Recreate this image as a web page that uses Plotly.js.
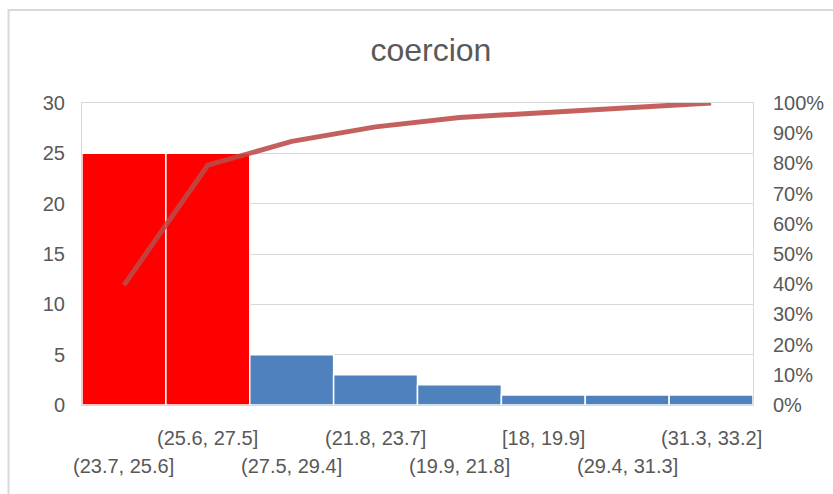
<!DOCTYPE html>
<html>
<head>
<meta charset="utf-8">
<script src="https://cdn.plot.ly/plotly-3.0.1.min.js"></script>
<style>html,body{margin:0;padding:0;background:#fff;}#chart{width:833px;height:494px;}</style>
</head>
<body>
<div id="chart"></div>
<script>
const categories = ["(23.7, 25.6]", "(25.6, 27.5]", "(27.5, 29.4]", "(21.8, 23.7]", "(19.9, 21.8]", "[18, 19.9]", "(29.4, 31.3]", "(31.3, 33.2]"];
const counts = [25, 25, 5, 3, 2, 1, 1, 1];
const cumulativePct = [39.7, 79.4, 87.3, 92.1, 95.2, 96.8, 98.4, 100];
const barColors = ["#FF0000", "#FF0000", "#4F81BD", "#4F81BD", "#4F81BD", "#4F81BD", "#4F81BD", "#4F81BD"];
const leftTicks = [0, 5, 10, 15, 20, 25, 30];
const rightTicks = [0, 10, 20, 30, 40, 50, 60, 70, 80, 90, 100];

const FONT = "Liberation Sans, Arial, sans-serif";
const GREY = "#595959";

const traces = [
  {
    type: "bar", x: categories, y: counts,
    marker: {color: barColors, line: {color: "#ffffff", width: 1.5}},
    hoverinfo: "x+y"
  },
  {
    type: "scatter", mode: "lines", x: categories, y: cumulativePct, yaxis: "y2",
    line: {color: "rgba(188,74,71,0.88)", width: 5}
  }
];

const annotations = categories.map((c, i) => ({
  text: c, x: c, xref: "x", yref: "paper",
  y: i % 2 === 0 ? -0.202 : -0.109, yanchor: "middle", xanchor: "center",
  showarrow: false, font: {family: FONT, size: 20, color: GREY}
}));

const layout = {
  width: 833, height: 494,
  margin: {l: 82, r: 80, t: 103, b: 89},
  paper_bgcolor: "#ffffff", plot_bgcolor: "#ffffff",
  showlegend: false,
  bargap: 0,
  title: {text: "coercion", x: 0.52, xref: "paper", y: 0.9, yanchor: "middle", font: {family: FONT, size: 32, color: GREY}},
  xaxis: {
    type: "category", range: [-0.5, categories.length - 0.5], autorange: false,
    showticklabels: false, ticks: "", showgrid: false,
    showline: true, linecolor: "#d9d9d9", linewidth: 1, mirror: true, zeroline: false
  },
  yaxis: {
    range: [0, 30], tickvals: leftTicks, ticktext: leftTicks.map(String),
    showgrid: true, gridcolor: "#d9d9d9", gridwidth: 1, zeroline: false,
    showline: true, linecolor: "#d9d9d9", linewidth: 1, mirror: true,
    ticks: "", ticklabelstandoff: 12,
    tickfont: {family: FONT, size: 20, color: GREY}
  },
  yaxis2: {
    range: [0, 100], overlaying: "y", side: "right",
    tickvals: rightTicks, ticktext: rightTicks.map(v => v + "%"),
    showgrid: false, zeroline: false, showline: false, ticks: "", ticklabelstandoff: 19,
    tickfont: {family: FONT, size: 20, color: GREY}
  },
  annotations: annotations,
  shapes: [{
    type: "rect", xref: "paper", yref: "paper",
    x0: -0.1095, x1: 1.3, y0: -0.5, y1: 1.308,
    line: {color: "#d9d9d9", width: 2}, fillcolor: "rgba(0,0,0,0)", layer: "below"
  }]
};

Plotly.newPlot("chart", traces, layout, {displayModeBar: false, staticPlot: true});
</script>
</body>
</html>
